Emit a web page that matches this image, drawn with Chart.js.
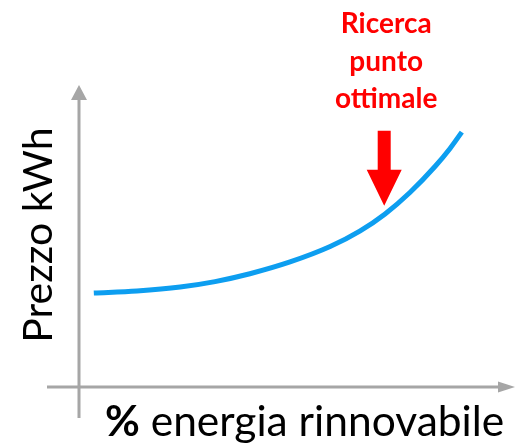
<!DOCTYPE html>
<html lang="it">
<head>
    <meta charset="UTF-8">
    <title>Prezzo kWh vs % energia rinnovabile</title>
    <script src="https://cdn.jsdelivr.net/npm/chart.js"></script>
    <style>
        html, body {
            margin: 0;
            padding: 0;
            background: #fff;
            overflow: hidden;
        }
        canvas {
            display: block;
        }
    </style>
</head>
<body>
    <canvas id="curvaChart" width="529" height="446"></canvas>

    <script>
        // Dati della curva (scala 0-100 su entrambi gli assi)
        const quotaRinnovabile = [3.4, 13.3, 23.2, 31.2, 39.2, 48.4, 57.6, 64.4, 70.2, 75.9, 81.7, 85.1, 87.8];
        const prezzoKwh = [31.1, 31.8, 33.1, 34.9, 37.5, 41.4, 46.5, 51.6, 57.3, 64.4, 73.1, 79.0, 84.4];

        // Punto ottimale indicato dalla freccia
        const puntoOttimale = { x: 70, y: 60 };
        const testoOttimale = ['Ricerca', 'punto', 'ottimale'];

        const titoloX = ['%', ' energia rinnovabile'];
        const titoloY = 'Prezzo kWh';

        const punti = quotaRinnovabile.map((v, i) => ({ x: v, y: prezzoKwh[i] }));

        // Assi con frecce, freccia rossa e testi
        const decorazioni = {
            id: 'decorazioni',
            beforeDatasetsDraw(chart) {
                const ctx = chart.ctx;
                const a = chart.chartArea;
                ctx.save();
                ctx.strokeStyle = '#a6a6a6';
                ctx.fillStyle = '#a6a6a6';
                ctx.lineWidth = 3;
                // asse y
                ctx.beginPath();
                ctx.moveTo(a.left, a.bottom + 31);
                ctx.lineTo(a.left, a.top + 12);
                ctx.stroke();
                ctx.beginPath();
                ctx.moveTo(a.left, a.top);
                ctx.lineTo(a.left - 8, a.top + 15);
                ctx.lineTo(a.left + 8, a.top + 15);
                ctx.closePath();
                ctx.fill();
                // asse x
                ctx.beginPath();
                ctx.moveTo(a.left - 32, a.bottom);
                ctx.lineTo(a.right - 14, a.bottom);
                ctx.stroke();
                ctx.beginPath();
                ctx.moveTo(a.right, a.bottom);
                ctx.lineTo(a.right - 17, a.bottom - 5.5);
                ctx.lineTo(a.right - 17, a.bottom + 5.5);
                ctx.closePath();
                ctx.fill();
                ctx.restore();
            },
            afterDraw(chart) {
                const ctx = chart.ctx;
                const a = chart.chartArea;
                const px = chart.scales.x.getPixelForValue(puntoOttimale.x);
                const py = chart.scales.y.getPixelForValue(puntoOttimale.y);
                ctx.save();

                // freccia rossa
                ctx.fillStyle = '#ff0000';
                ctx.beginPath();
                ctx.moveTo(px, py);
                ctx.lineTo(px - 17.5, py - 36);
                ctx.lineTo(px - 6.5, py - 36);
                ctx.lineTo(px - 6.5, py - 75);
                ctx.lineTo(px + 6.5, py - 75);
                ctx.lineTo(px + 6.5, py - 36);
                ctx.lineTo(px + 17.5, py - 36);
                ctx.closePath();
                ctx.fill();

                // testo rosso
                ctx.font = 'bold 28px Lato';
                ctx.textAlign = 'center';
                ctx.textBaseline = 'alphabetic';
                testoOttimale.forEach((riga, i) => {
                    ctx.fillText(riga, px + 2, 33 + i * 37.5);
                });

                // titolo asse x
                ctx.fillStyle = '#000';
                ctx.textAlign = 'left';
                let x = 105;
                ctx.font = 'bold 42.5px Lato';
                ctx.fillText(titoloX[0], x, a.bottom + 49);
                x += ctx.measureText(titoloX[0]).width;
                ctx.font = '42.5px Lato';
                ctx.fillText(titoloX[1], x, a.bottom + 49);

                // titolo asse y
                ctx.translate(52, 235);
                ctx.rotate(-Math.PI / 2);
                ctx.textAlign = 'center';
                ctx.font = '41px Lato';
                ctx.fillText(titoloY, 0, 0);
                ctx.restore();
            }
        };

        const config = {
            type: 'line',
            data: {
                datasets: [{
                    data: punti,
                    borderColor: '#0d9ef0',
                    borderWidth: 5,
                    pointRadius: 0,
                    fill: false,
                    cubicInterpolationMode: 'monotone',
                    borderCapStyle: 'butt'
                }]
            },
            options: {
                responsive: false,
                animation: false,
                layout: {
                    padding: { left: 79, right: 14, top: 85, bottom: 59 }
                },
                plugins: {
                    legend: { display: false },
                    tooltip: { enabled: false }
                },
                scales: {
                    x: { type: 'linear', min: 0, max: 100, display: false },
                    y: { type: 'linear', min: 0, max: 100, display: false }
                }
            },
            plugins: [decorazioni]
        };

        const curvaChart = new Chart(document.getElementById('curvaChart'), config);
    </script>
</body>
</html>
